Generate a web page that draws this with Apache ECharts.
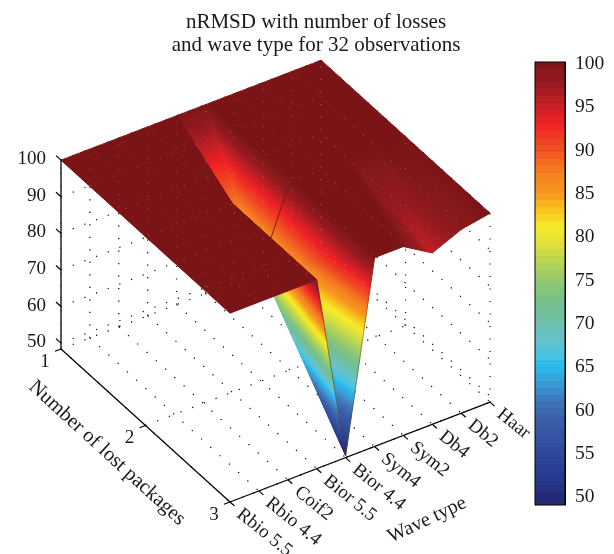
<!DOCTYPE html>
<html lang="en">

<head>
  <meta charset="UTF-8">
  <title>nRMSD surface</title>
  <script src="https://cdnjs.cloudflare.com/ajax/libs/echarts/6.0.0/echarts.min.js"></script>
  <style>
    html, body { margin: 0; padding: 0; background: #fff; }
  </style>
</head>

<body>
  <div id="main" style="width: 614px;height:554px;"></div>
  <script type="text/javascript">
    var waveTypes = ['Rbio 5.5', 'Rbio 4.4', 'Coif2', 'Bior 5.5', 'Bior 4.4', 'Sym4', 'Sym2', 'Db4', 'Db2', 'Haar'];
    var lossCounts = [1, 2, 3];
    var nrmsdLoss1 = [100, 100, 100, 100, 100, 100, 100, 100, 100, 100];
    var nrmsdLoss2 = [100, 100, 100, 100, 79.5, 100, 100, 100, 100, 100];
    var nrmsdLoss3 = [100, 100, 100, 100, 49, 100, 100, 95.2, 98.6, 100];
    var zTicks = [50, 60, 70, 80, 90, 100];
    var colorbarTicks = [50, 55, 60, 65, 70, 75, 80, 85, 90, 95, 100];
    // colour map
    var cmapValues = [48.85, 50, 52, 55, 59, 61, 63, 65, 66, 68, 70, 72, 75, 77, 79, 81, 83, 85, 87, 90, 93, 95, 97.5, 99.2, 100];
    var cmapColors = ['#25296c', '#262b78', '#26388f', '#2f4a9b', '#3a60a8', '#3e78bb', '#3b9ad5', '#27bdee', '#48c3e4', '#65c3cc',
      '#6fc0a8', '#72bf8e', '#96ca6c', '#b9d550', '#dfe03a', '#f6eb28', '#f9c01e', '#f7941e', '#f58220', '#f04e23',
      '#ed2024', '#c41f26', '#951a1f', '#86181b', '#7a1416'];

    var FONT = '"Liberation Serif", "Times New Roman", serif';
    var zMin = 48.4, zMax = 100;
    var nrmsd = [nrmsdLoss1, nrmsdLoss2, nrmsdLoss3];
    // quads split the other way round, [wave index, loss index]
    var flippedQuads = ['4,1'];
    // creases that show as thin dark lines, wave/loss pairs
    var creases = [[3, 3, 4, 3, 'rgba(90,50,20,0.65)'], [5, 3, 4, 3, 'rgba(90,50,20,0.45)'], [5, 2, 4, 2, 'rgba(120,20,20,0.9)']];

    // orthographic view of the box, result in page pixels
    function project(w, l, z) {
      return [
        61 + w * 28.9 + (l - 1) * 84.5,
        349 - w * 11.1 + (l - 1) * 76.5 - (z - zMin) * 3.66
      ];
    }

    function depth(t) {
      return -t[0] * 0.1 + t[1] * 0.05 + t[2] * 0.01;
    }

    function hexToRgb(c) {
      return [parseInt(c.substr(1, 2), 16), parseInt(c.substr(3, 2), 16), parseInt(c.substr(5, 2), 16)];
    }

    function colorAt(v) {
      if (v <= cmapValues[0]) return cmapColors[0];
      for (var i = 1; i < cmapValues.length; i++) {
        if (v <= cmapValues[i]) {
          var f = (v - cmapValues[i - 1]) / (cmapValues[i] - cmapValues[i - 1]);
          var a = hexToRgb(cmapColors[i - 1]), b = hexToRgb(cmapColors[i]);
          return 'rgb(' + Math.round(a[0] + (b[0] - a[0]) * f) + ',' + Math.round(a[1] + (b[1] - a[1]) * f) + ',' + Math.round(a[2] + (b[2] - a[2]) * f) + ')';
        }
      }
      return cmapColors[cmapColors.length - 1];
    }

    // triangles [w,l,z, w,l,z, w,l,z], far ones first
    var triangles = [];
    for (var li = 0; li < lossCounts.length - 1; li++) {
      for (var wi = 0; wi < waveTypes.length - 1; wi++) {
        var a = [wi, lossCounts[li], nrmsd[li][wi]];
        var b = [wi + 1, lossCounts[li], nrmsd[li][wi + 1]];
        var c = [wi, lossCounts[li + 1], nrmsd[li + 1][wi]];
        var d = [wi + 1, lossCounts[li + 1], nrmsd[li + 1][wi + 1]];
        if (flippedQuads.indexOf(wi + ',' + li) >= 0) {
          triangles.push(a.concat(b, d), a.concat(c, d));
        } else {
          triangles.push(a.concat(b, c), b.concat(c, d));
        }
      }
    }
    triangles.sort(function (p, q) {
      return depth([(p[0] + p[3] + p[6]) / 3, (p[1] + p[4] + p[7]) / 3, (p[2] + p[5] + p[8]) / 3]) -
        depth([(q[0] + q[3] + q[6]) / 3, (q[1] + q[4] + q[7]) / 3, (q[2] + q[5] + q[8]) / 3]);
    });

    function hasVertex(t, w, l) {
      return (t[0] === w && t[1] === l) || (t[3] === w && t[4] === l) || (t[6] === w && t[7] === l);
    }

    // each crease is drawn with the last triangle painted that owns it, so nearer ones still hide it
    var creaseOwner = creases.map(function (e) {
      var owner = -1;
      triangles.forEach(function (t, i) {
        if (hasVertex(t, e[0], e[1]) && hasVertex(t, e[2], e[3])) owner = i;
      });
      return owner;
    });

    function surfaceZ(w, l) {
      return nrmsd[lossCounts.indexOf(l)][w];
    }

    // z is linear across a flat triangle, so a linear gradient along its slope is exact
    function triangleFill(pts, zs) {
      if (zs[0] === zs[1] && zs[1] === zs[2]) return colorAt(zs[0]);
      var x1 = pts[1][0] - pts[0][0], y1 = pts[1][1] - pts[0][1];
      var x2 = pts[2][0] - pts[0][0], y2 = pts[2][1] - pts[0][1];
      var dz1 = zs[1] - zs[0], dz2 = zs[2] - zs[0];
      var det = x1 * y2 - x2 * y1;
      var gx = (dz1 * y2 - dz2 * y1) / det, gy = (x1 * dz2 - x2 * dz1) / det;
      var g2 = gx * gx + gy * gy;
      var lo = Math.min(zs[0], zs[1], zs[2]), hi = Math.max(zs[0], zs[1], zs[2]);
      var sx = pts[0][0] + gx * (lo - zs[0]) / g2, sy = pts[0][1] + gy * (lo - zs[0]) / g2;
      var ex = pts[0][0] + gx * (hi - zs[0]) / g2, ey = pts[0][1] + gy * (hi - zs[0]) / g2;
      var stops = [{ offset: 0, color: colorAt(lo) }];
      cmapValues.forEach(function (v) {
        if (v > lo && v < hi) stops.push({ offset: (v - lo) / (hi - lo), color: colorAt(v) });
      });
      stops.push({ offset: 1, color: colorAt(hi) });
      return new echarts.graphic.LinearGradient(sx, sy, ex, ey, stops, true);
    }

    function renderTriangle(params, api) {
      var t = triangles[params.dataIndex];
      var pts = [project(t[0], t[1], t[2]), project(t[3], t[4], t[5]), project(t[6], t[7], t[8])];
      var fill = triangleFill(pts, [t[2], t[5], t[8]]);
      var kids = [{
        type: 'polygon',
        shape: { points: pts.map(function (p) { return api.coord(p); }) },
        style: { fill: fill, stroke: fill, lineWidth: 1 }
      }];
      creases.forEach(function (e, i) {
        if (creaseOwner[i] !== params.dataIndex) return;
        var p = api.coord(project(e[0], e[1], surfaceZ(e[0], e[1])));
        var q = api.coord(project(e[2], e[3], surfaceZ(e[2], e[3])));
        kids.push({
          type: 'line',
          shape: { x1: p[0], y1: p[1], x2: q[0], y2: q[1] },
          style: { stroke: e[4], lineWidth: 1 }
        });
      });
      return { type: 'group', children: kids };
    }

    // dotted box grid: wall at first loss count, wall at last wave, floor
    var lastW = waveTypes.length - 1;
    var gridLines = [];
    waveTypes.forEach(function (n, w) {
      gridLines.push([w, 1, zMin, w, 1, zMax]);
      gridLines.push([w, 1, zMin, w, 3, zMin]);
    });
    lossCounts.forEach(function (l) {
      gridLines.push([lastW, l, zMin, lastW, l, zMax]);
      gridLines.push([0, l, zMin, lastW, l, zMin]);
    });
    zTicks.forEach(function (z) {
      gridLines.push([0, 1, z, lastW, 1, z]);
      gridLines.push([lastW, 1, z, lastW, 3, z]);
    });

    function gridLineItem(api, g, style) {
      var p = api.coord(project(g[0], g[1], g[2])), q = api.coord(project(g[3], g[4], g[5]));
      return { type: 'line', shape: { x1: p[0], y1: p[1], x2: q[0], y2: q[1] }, style: style };
    }

    function renderGridLine(params, api) {
      return gridLineItem(api, gridLines[params.dataIndex], { stroke: '#000', lineWidth: 1.2, lineDash: [1.2, 11.3] });
    }

    // pale dots showing through the surface, white on the white page so only seen on the surface
    function renderGridGhost(params, api) {
      return gridLineItem(api, gridLines[params.dataIndex], { stroke: 'rgba(255,255,255,0.2)', lineWidth: 1.2, lineDash: [1.2, 11.3], lineDashOffset: 6 });
    }

    function axisText(x, y, text, rotation, align, size) {
      return {
        type: 'text',
        x: x, y: y, rotation: rotation || 0,
        style: { text: text, font: (size || 19) + 'px ' + FONT, fill: '#1a1a1a', align: align || 'center', verticalAlign: 'middle' }
      };
    }

    function tick(from, dx, dy, stroke, width) {
      return {
        type: 'line',
        shape: { x1: from[0], y1: from[1], x2: from[0] + dx, y2: from[1] + dy },
        style: { stroke: stroke || '#000', lineWidth: width || 1.2 }
      };
    }

    function renderAxes(params, api) {
      var kids = [];
      var zBase = project(0, 1, zMin), zTop = project(0, 1, zMax);
      kids.push(tick(zBase, 0, zTop[1] - zBase[1], '#333', 1.6));
      zTicks.forEach(function (z) {
        var p = project(0, 1, z);
        kids.push(tick(p, -5, -4.5));
        kids.push(axisText(p[0] - 15, p[1] - 1, String(z), 0, 'right'));
      });
      var a = project(0, 1, zMin), b = project(0, 3, zMin), c = project(lastW, 3, zMin);
      kids.push(tick(a, b[0] - a[0], b[1] - a[1]));
      kids.push(tick(b, c[0] - b[0], c[1] - b[1]));
      lossCounts.forEach(function (l) {
        var p = project(0, l, zMin);
        kids.push(tick(p, -6, 2.3));
        kids.push(axisText(p[0] - 16, p[1] + 13, String(l), 0, 'center'));
      });
      waveTypes.forEach(function (name, w) {
        var p = project(w, 3, zMin);
        kids.push(tick(p, 4.5, 4));
        kids.push(axisText(p[0] + 9, p[1] + 10, name, -0.68, 'left'));
      });
      kids.push(axisText(107, 453, 'Number of lost packages', -0.74, 'center', 20.5));
      kids.push(axisText(427, 520, 'Wave type', 0.44, 'center', 20));
      return { type: 'group', children: kids };
    }

    // stepped colour bar, the map has 64 levels
    function colorbarStops() {
      var stops = [], n = 64;
      for (var i = 0; i < n; i++) {
        var col = colorAt(48.85 + (100 - 48.85) * (i + 0.5) / n);
        stops.push({ offset: i / n, color: col }, { offset: (i + 1) / n, color: col });
      }
      return stops;
    }

    function renderColorbar(params, api) {
      var lo = api.coord([0, 48.85]), hi = api.coord([1, 100]);
      var kids = [{
        type: 'rect',
        shape: { x: lo[0], y: hi[1], width: hi[0] - lo[0], height: lo[1] - hi[1] },
        style: { fill: new echarts.graphic.LinearGradient(0, 1, 0, 0, colorbarStops()), stroke: '#000', lineWidth: 1 }
      }];
      colorbarTicks.forEach(function (v) {
        var p = api.coord([1, v]);
        kids.push(axisText(p[0] + 10, p[1] + 2, String(v), 0, 'left', 19.5));
      });
      return { type: 'group', children: kids };
    }

    var myChart = echarts.init(document.getElementById('main'), null, { renderer: 'canvas' });
    var option = {
      animation: false,
      title: {
        text: 'nRMSD with number of losses\nand wave type for 32 observations',
        left: 311, top: 6, textAlign: 'center',
        textStyle: { fontFamily: FONT, fontSize: 21, fontWeight: 'normal', color: '#1a1a1a', lineHeight: 23 }
      },
      grid: [
        { left: 0, top: 0, width: 614, height: 554 },
        { left: 535, top: 62, width: 30, height: 443, containLabel: false }
      ],
      xAxis: [
        { type: 'value', gridIndex: 0, min: 0, max: 614, show: false },
        { type: 'value', gridIndex: 1, min: 0, max: 1, show: false }
      ],
      yAxis: [
        { type: 'value', gridIndex: 0, min: 0, max: 554, inverse: true, show: false },
        {
          type: 'value', gridIndex: 1, min: 48.85, max: 100, position: 'right',
          axisLine: { show: true, onZero: false, lineStyle: { color: '#000', width: 1 } },
          axisTick: { show: true, inside: true, length: 3, customValues: colorbarTicks, lineStyle: { color: '#000', width: 1.2 } },
          axisLabel: { show: false },
          splitLine: { show: false }
        },
        {
          type: 'value', gridIndex: 1, min: 48.85, max: 100, position: 'left',
          axisLine: { show: true, onZero: false, lineStyle: { color: '#000', width: 1 } },
          axisTick: { show: true, inside: true, length: 3, customValues: colorbarTicks, lineStyle: { color: '#000', width: 1.2 } },
          axisLabel: { show: false },
          splitLine: { show: false }
        }
      ],
      series: [
        { type: 'custom', xAxisIndex: 0, yAxisIndex: 0, clip: false, silent: true, renderItem: renderGridLine, data: gridLines.map(function (g, i) { return [i]; }), z: 1 },
        { type: 'custom', xAxisIndex: 0, yAxisIndex: 0, clip: false, silent: true, renderItem: renderTriangle, data: triangles.map(function (t, i) { return [i]; }), z: 2 },
        { type: 'custom', xAxisIndex: 0, yAxisIndex: 0, clip: false, silent: true, renderItem: renderGridGhost, data: gridLines.map(function (g, i) { return [i]; }), z: 3 },
        { type: 'custom', xAxisIndex: 0, yAxisIndex: 0, clip: false, silent: true, renderItem: renderAxes, data: [[0]], z: 4 },
        { type: 'custom', xAxisIndex: 1, yAxisIndex: 1, clip: false, silent: true, renderItem: renderColorbar, data: [[0]], z: 1 }
      ]
    };
    myChart.setOption(option);
  </script>
</body>

</html>
